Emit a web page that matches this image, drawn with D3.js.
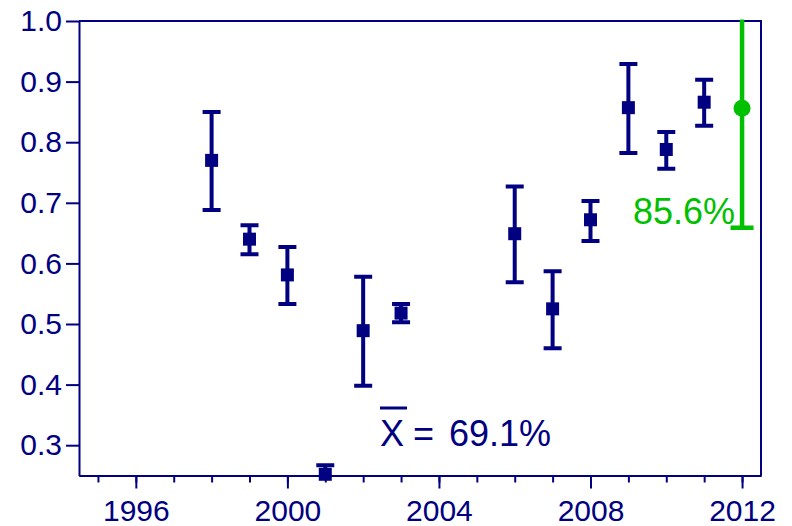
<!DOCTYPE html>
<html><head><meta charset="utf-8">
<script src="https://cdn.jsdelivr.net/npm/d3@7"></script>
<style>html,body{margin:0;padding:0;background:#fff;}svg{display:block;}</style>
</head><body>
<script>
// Data
const years  = [1998, 1999, 2000, 2001, 2002, 2003, 2006, 2007, 2008, 2009, 2010, 2011];
const values = [0.770, 0.640, 0.581, 0.252, 0.489, 0.518, 0.649, 0.525, 0.672, 0.857, 0.788, 0.866];
const upper  = [0.850, 0.663, 0.627, 0.267, 0.578, 0.533, 0.727, 0.587, 0.703, 0.929, 0.817, 0.903];
const lower  = [0.688, 0.615, 0.533, 0.237, 0.398, 0.503, 0.569, 0.460, 0.637, 0.782, 0.756, 0.827];
const targetYear = [2012];
const targetValue = [0.856];
const targetUpper = [1.053];
const targetLower = [0.659];
const yTicks = [0.3, 0.4, 0.5, 0.6, 0.7, 0.8, 0.9, 1.0];
const xMajorTicks = [1996, 2000, 2004, 2008, 2012];
const xMinorTicks = d3.range(1995, 2013);
const meanLabel = "69.1%";
const targetLabel = "85.6%";

const W = 792, H = 526;
const pL = 79, pR = 761, pT = 21, pB = 475.5;
const navy = "#000080", green = "#00c000";
const font = "'Liberation Sans', Arial, Helvetica, sans-serif";

const x = d3.scaleLinear().domain([1994.5, 2012.5]).range([pL, pR]);
const y = d3.scaleLinear().domain([0.25, 1.0]).range([pB, pT]);

const svg = d3.select("body").append("svg").attr("width", W).attr("height", H);

svg.append("defs").append("clipPath").attr("id", "plotclip")
  .append("rect").attr("x", pL).attr("y", pT - 1.5).attr("width", pR - pL).attr("height", pB - pT + 1.5);

// Y axis
const yAxis = svg.append("g").attr("transform", `translate(${pL},0)`)
  .call(d3.axisLeft(y).tickValues(yTicks).tickFormat(d3.format(".1f")).tickSize(13).tickSizeOuter(0).tickPadding(4));
// X axis minor
const xMinor = svg.append("g").attr("transform", `translate(0,${pB})`)
  .call(d3.axisBottom(x).tickValues(xMinorTicks).tickFormat("").tickSize(7).tickSizeOuter(0));
// X axis major
const xAxis = svg.append("g").attr("transform", `translate(0,${pB})`)
  .call(d3.axisBottom(x).tickValues(xMajorTicks).tickFormat(d3.format("d")).tickSize(13).tickSizeOuter(0).tickPadding(11));

[yAxis, xMinor, xAxis].forEach(g => {
  g.selectAll("path.domain").attr("stroke", navy).attr("stroke-width", 2);
  g.selectAll("line").attr("stroke", navy).attr("stroke-width", 2);
  g.selectAll("text").attr("fill", navy).style("font-family", font).style("font-size", "30px");
});
xAxis.selectAll("text").attr("dy", "0.71em");

// Box top & right
svg.append("path")
  .attr("d", `M${pL},${pT}H${pR}V${pB}`)
  .attr("fill", "none").attr("stroke", navy).attr("stroke-width", 2);

// Error bars (navy)
const data = years.map((yr, i) => ({yr, v: values[i], hi: upper[i], lo: lower[i]}));
const eb = svg.append("g").attr("clip-path", "url(#plotclip)");
eb.selectAll("line.v").data(data).enter().append("line")
  .attr("x1", d => x(d.yr)).attr("x2", d => x(d.yr))
  .attr("y1", d => y(d.hi)).attr("y2", d => y(d.lo))
  .attr("stroke", navy).attr("stroke-width", 4);
eb.selectAll("line.hi").data(data).enter().append("line")
  .attr("x1", d => x(d.yr) - 9).attr("x2", d => x(d.yr) + 9)
  .attr("y1", d => y(d.hi)).attr("y2", d => y(d.hi))
  .attr("stroke", navy).attr("stroke-width", 4);
eb.selectAll("line.lo").data(data).enter().append("line")
  .attr("x1", d => x(d.yr) - 9).attr("x2", d => x(d.yr) + 9)
  .attr("y1", d => y(d.lo)).attr("y2", d => y(d.lo))
  .attr("stroke", navy).attr("stroke-width", 4);
svg.selectAll("rect.m").data(data).enter().append("rect")
  .attr("x", d => x(d.yr) - 6.5).attr("y", d => y(d.v) - 6.5)
  .attr("width", 13).attr("height", 13).attr("fill", navy);

// Target (green)
const tdata = targetYear.map((yr, i) => ({yr, v: targetValue[i], hi: targetUpper[i], lo: targetLower[i]}));
const tg = svg.append("g").attr("clip-path", "url(#plotclip)");
tg.selectAll("line.v").data(tdata).enter().append("line")
  .attr("x1", d => x(d.yr)).attr("x2", d => x(d.yr))
  .attr("y1", d => y(d.hi)).attr("y2", d => y(d.lo))
  .attr("stroke", green).attr("stroke-width", 4.5);
tg.selectAll("line.lo").data(tdata).enter().append("line")
  .attr("x1", d => x(d.yr) - 11.5).attr("x2", d => x(d.yr) + 11.5)
  .attr("y1", d => y(d.lo)).attr("y2", d => y(d.lo))
  .attr("stroke", green).attr("stroke-width", 4.5);
tg.selectAll("line.hi").data(tdata).enter().append("line")
  .attr("x1", d => x(d.yr) - 11.5).attr("x2", d => x(d.yr) + 11.5)
  .attr("y1", d => y(d.hi)).attr("y2", d => y(d.hi))
  .attr("stroke", green).attr("stroke-width", 4.5);
svg.selectAll("circle.t").data(tdata).enter().append("circle")
  .attr("cx", d => x(d.yr)).attr("cy", d => y(d.v)).attr("r", 8.5).attr("fill", green);

svg.append("text").attr("x", x(targetYear[0]) - 7).attr("y", y(targetLower[0]) - 4)
  .attr("text-anchor", "end").attr("fill", green)
  .style("font-family", font).style("font-size", "36px").text(targetLabel);

// Mean annotation
const mg = svg.append("g").attr("fill", navy).style("font-family", font).style("font-size", "36px");
mg.append("text").attr("x", 380).attr("y", 446).text("X");
mg.append("line").attr("x1", 380).attr("x2", 407).attr("y1", 408).attr("y2", 408)
  .attr("stroke", navy).attr("stroke-width", 3);
mg.append("text").attr("x", 413).attr("y", 446).text("=");
mg.append("text").attr("x", 449).attr("y", 446).text(meanLabel);
</script>
</body></html>
